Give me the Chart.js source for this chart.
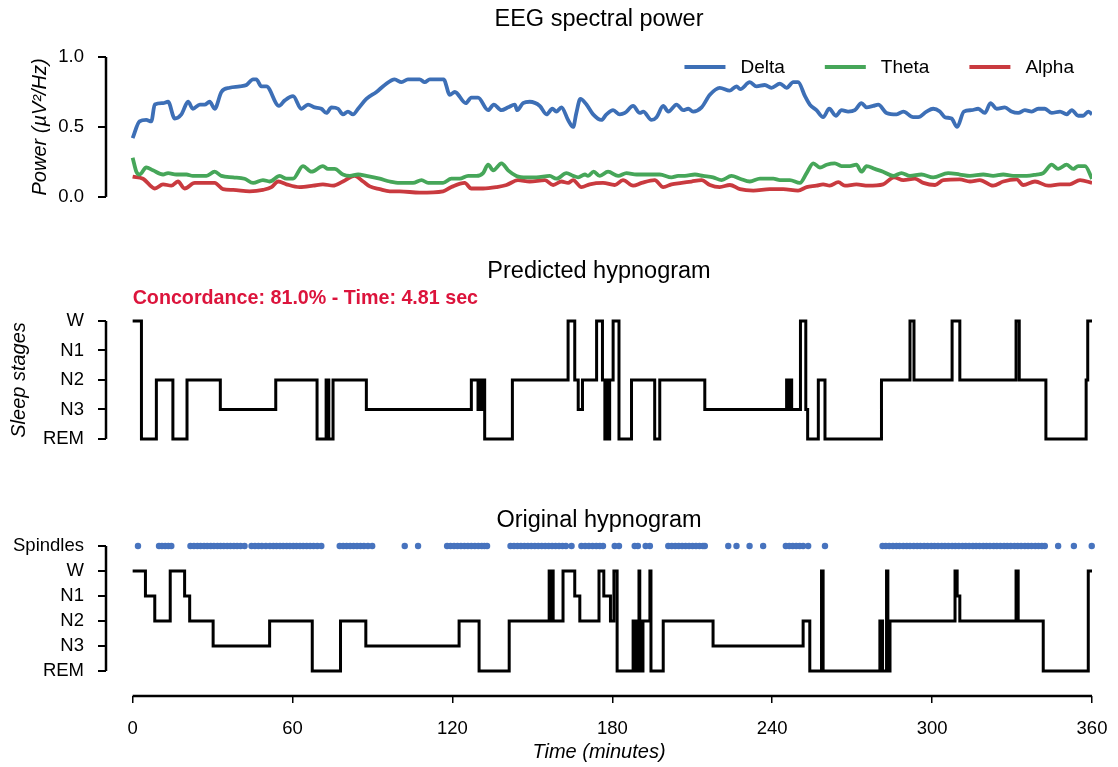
<!DOCTYPE html>
<html>
<head>
<meta charset="utf-8">
<title>EEG spectral power and hypnograms</title>
<script src="https://cdn.jsdelivr.net/npm/chart.js@4.4.1/dist/chart.umd.min.js"></script>
<style>
  body { margin: 0; background: #fff; }
  #wrap { position: relative; width: 1118px; height: 767px; }
  .panel { position: absolute; left: 0; width: 1118px; }
</style>
</head>
<body>
<div id="wrap">
  <div class="panel" style="top:0;height:222px"><canvas id="power"></canvas></div>
  <div class="panel" style="top:240px;height:224px"><canvas id="predicted"></canvas></div>
  <div class="panel" style="top:490px;height:277px"><canvas id="original"></canvas></div>
</div>
<script>
// ---- data (minutes / power / stage index) ----
var deltaTime = [0, 2.6, 5.1, 7.0, 8.3, 11.4, 13.3, 15.8, 18.3, 20.8,
  22.6, 25.2, 27.0, 28.9, 30.8, 33.3, 36.4, 40.2, 42.7, 45.2,
  46.4, 48.3, 50.2, 54.9, 57.1, 60.2, 63.3, 65.8, 68.3, 70.8,
  72.7, 74.6, 77.1, 78.9, 80.8, 82.7, 84.6, 87.7, 91.5, 94.6,
  98.3, 100.9, 103.3, 107.7, 109.6, 111.5, 116.7, 119.0, 120.9, 125.0,
  127.1, 129.6, 133.4, 135.5, 138.4, 140.9, 143.4, 144.3, 146.5, 149.0,
  152.8, 155.3, 157.5, 159.0, 160.9, 163.4, 165.3, 166.5, 168.0, 170.3,
  172.8, 175.9, 177.8, 180.3, 182.8, 184.7, 187.8, 190.3, 191.6, 194.7,
  196.6, 199.1, 201.0, 204.1, 206.6, 208.5, 210.3, 213.5, 216.6, 220.3,
  224.1, 226.6, 228.0, 231.6, 234.1, 237.2, 239.7, 242.9, 245.4, 247.9,
  249.7, 252.3, 254.1, 256.6, 259.1, 261.4, 263.9, 266.0, 268.5, 271.0,
  273.5, 275.4, 277.9, 279.8, 282.9, 286.7, 289.2, 292.9, 294.8, 297.9,
  300.4, 302.9, 304.8, 307.3, 309.4, 311.9, 314.8, 317.3, 319.8, 321.9,
  324.2, 327.3, 329.8, 332.3, 334.8, 337.4, 339.8, 342.3, 344.9, 348.0,
  350.5, 352.4, 354.8, 356.7, 358.6, 360];
var deltaPower = [0.42, 0.54, 0.55, 0.54, 0.66, 0.67, 0.68, 0.56, 0.59, 0.68,
  0.63, 0.66, 0.66, 0.68, 0.63, 0.75, 0.78, 0.79, 0.80, 0.84,
  0.84, 0.79, 0.79, 0.65, 0.69, 0.72, 0.63, 0.66, 0.64, 0.63,
  0.60, 0.64, 0.63, 0.59, 0.61, 0.59, 0.63, 0.70, 0.75, 0.80,
  0.84, 0.82, 0.84, 0.84, 0.82, 0.84, 0.84, 0.73, 0.75, 0.67,
  0.71, 0.71, 0.62, 0.66, 0.62, 0.64, 0.66, 0.62, 0.67, 0.68,
  0.65, 0.59, 0.63, 0.61, 0.64, 0.55, 0.50, 0.60, 0.70, 0.66,
  0.59, 0.55, 0.59, 0.62, 0.59, 0.60, 0.65, 0.60, 0.61, 0.55,
  0.57, 0.65, 0.61, 0.66, 0.62, 0.63, 0.61, 0.64, 0.73, 0.78,
  0.76, 0.79, 0.77, 0.82, 0.79, 0.80, 0.78, 0.81, 0.78, 0.82,
  0.82, 0.72, 0.66, 0.62, 0.57, 0.63, 0.58, 0.62, 0.61, 0.62,
  0.67, 0.64, 0.65, 0.66, 0.60, 0.59, 0.61, 0.57, 0.57, 0.61,
  0.63, 0.61, 0.57, 0.56, 0.50, 0.61, 0.62, 0.63, 0.60, 0.67,
  0.63, 0.64, 0.61, 0.60, 0.62, 0.61, 0.63, 0.63, 0.60, 0.61,
  0.59, 0.62, 0.58, 0.58, 0.61, 0.59];

var thetaTime = [0, 1.4, 2.6, 5.1, 7.6, 11.4, 13.3, 16.4, 20.2, 22.6,
  27.7, 30.8, 33.3, 37.7, 42.0, 45.2, 48.9, 51.4, 55.2, 57.7,
  60.2, 63.9, 67.1, 71.4, 73.3, 75.8, 78.9, 81.5, 84.6, 87.7,
  92.7, 96.5, 100.2, 105.2, 108.4, 110.9, 116.5, 119.6, 122.7, 125.9,
  129.0, 131.5, 133.4, 135.3, 138.4, 140.9, 144.0, 147.8, 151.5, 156.5,
  159.0, 162.8, 165.3, 167.2, 169.7, 170.9, 173.0, 175.3, 178.4, 182.2,
  185.3, 189.1, 192.8, 195.3, 197.8, 202.2, 204.7, 207.2, 211.0, 214.1,
  217.8, 221.0, 224.7, 227.9, 231.6, 235.4, 240.4, 242.9, 246.6, 250.4,
  252.9, 255.4, 257.9, 260.4, 263.5, 266.0, 269.1, 271.6, 273.5, 275.4,
  278.5, 281.6, 285.4, 288.5, 291.7, 296.0, 300.4, 306.0, 310.4, 314.2,
  319.2, 322.9, 326.7, 330.4, 335.5, 339.2, 341.7, 344.9, 347.3, 350.5,
  353.0, 354.8, 357.4, 360];
var thetaPower = [0.28, 0.18, 0.16, 0.21, 0.19, 0.16, 0.17, 0.16, 0.16, 0.15,
  0.15, 0.18, 0.15, 0.14, 0.13, 0.10, 0.12, 0.11, 0.15, 0.13,
  0.13, 0.22, 0.18, 0.22, 0.20, 0.20, 0.16, 0.15, 0.16, 0.15,
  0.13, 0.11, 0.10, 0.10, 0.12, 0.10, 0.10, 0.13, 0.13, 0.15,
  0.15, 0.17, 0.23, 0.19, 0.24, 0.19, 0.15, 0.14, 0.14, 0.15,
  0.13, 0.17, 0.15, 0.14, 0.16, 0.15, 0.18, 0.15, 0.18, 0.15,
  0.17, 0.16, 0.16, 0.16, 0.16, 0.14, 0.15, 0.15, 0.16, 0.15,
  0.14, 0.12, 0.15, 0.13, 0.11, 0.13, 0.13, 0.12, 0.12, 0.10,
  0.17, 0.24, 0.21, 0.23, 0.24, 0.22, 0.22, 0.23, 0.18, 0.22,
  0.20, 0.18, 0.15, 0.17, 0.15, 0.16, 0.14, 0.17, 0.16, 0.15,
  0.16, 0.15, 0.16, 0.15, 0.15, 0.16, 0.17, 0.23, 0.20, 0.23,
  0.20, 0.22, 0.22, 0.13];

var alphaTime = [0, 3.9, 8.3, 11.4, 14.5, 17.0, 19.5, 23.3, 27.7, 30.8,
  33.9, 37.7, 43.9, 48.9, 52.1, 54.6, 57.7, 62.7, 67.7, 71.4,
  75.2, 78.9, 83.3, 86.5, 89.0, 92.7, 96.5, 100.2, 107.7, 116.5,
  119.6, 124.6, 127.1, 131.5, 136.5, 140.3, 144.6, 149.0, 154.7, 157.8,
  160.9, 163.4, 165.3, 168.4, 171.5, 176.5, 180.9, 184.0, 187.8, 191.0,
  195.9, 199.1, 202.2, 206.0, 209.7, 213.5, 216.6, 220.3, 224.1, 227.9,
  232.9, 239.1, 244.1, 249.7, 252.9, 256.6, 259.1, 261.6, 264.8, 267.3,
  271.6, 276.0, 281.6, 285.7, 289.2, 293.5, 296.7, 301.1, 304.2, 310.4,
  314.2, 317.9, 322.9, 326.7, 331.7, 334.2, 338.6, 343.6, 348.0, 351.7,
  355.5, 360];
var alphaPower = [0.145, 0.13, 0.06, 0.09, 0.08, 0.11, 0.06, 0.10, 0.10, 0.10,
  0.055, 0.05, 0.04, 0.05, 0.07, 0.11, 0.09, 0.07, 0.08, 0.09,
  0.08, 0.11, 0.15, 0.11, 0.075, 0.055, 0.04, 0.04, 0.03, 0.04,
  0.07, 0.10, 0.06, 0.06, 0.07, 0.085, 0.12, 0.11, 0.12, 0.085,
  0.11, 0.10, 0.12, 0.07, 0.09, 0.10, 0.085, 0.12, 0.08, 0.10,
  0.12, 0.07, 0.09, 0.10, 0.11, 0.12, 0.085, 0.07, 0.085, 0.055,
  0.045, 0.055, 0.055, 0.045, 0.07, 0.08, 0.09, 0.08, 0.105, 0.08,
  0.09, 0.08, 0.09, 0.14, 0.12, 0.13, 0.10, 0.085, 0.12, 0.125,
  0.11, 0.12, 0.08, 0.11, 0.125, 0.085, 0.11, 0.08, 0.09, 0.09,
  0.12, 0.10];

// stage index: 0 REM, 1 N3, 2 N2, 3 N1, 4 W (5 = spindle row)
var predTime = [0, 3.3, 8.9, 15.1, 20.4, 32.9, 53.7, 69.2, 72.6, 73.6,
  75.2, 87.7, 127.1, 129.6, 130.2, 130.8, 131.4, 132.1, 142.5, 163.4,
  165.9, 167.2, 168.8, 174.1, 176.3, 177.2, 177.9, 178.3, 179.0, 180.3,
  182.5, 187.2, 195.9, 197.8, 214.7, 245.4, 246.0, 246.6, 247.3, 250.6,
  252.6, 253.3, 257.3, 259.8, 281.0, 291.7, 293.2, 307.5, 310.4, 331.5,
  332.7, 342.7, 357.8, 358.4, 360];
var predStage = [4, 0, 2, 0, 2, 1, 2, 0, 2, 0,
  2, 1, 2, 1, 2, 1, 2, 0, 2, 4,
  2, 1, 2, 4, 2, 0, 2, 0, 2, 4,
  0, 2, 0, 2, 1, 2, 1, 2, 1, 4,
  1, 0, 2, 0, 2, 4, 2, 4, 2, 4,
  2, 0, 2, 4, 4];

var origTime = [0, 4.8, 8.3, 14.1, 19.5, 21.4, 30.2, 51.4, 67.4, 78.0,
  87.5, 122.5, 130.0, 141.3, 156.3, 156.9, 157.3, 157.8, 161.5, 165.9,
  167.8, 175.0, 176.8, 179.3, 180.6, 181.8, 187.8, 188.4, 188.9, 189.4,
  190.0, 190.3, 190.6, 191.0, 191.5, 194.1, 194.5, 199.1, 217.8, 251.6,
  254.1, 258.5, 259.1, 280.4, 281.4, 282.9, 283.4, 284.2, 308.6, 309.4,
  310.4, 331.5, 332.3, 341.7, 358.6, 360];
var origStage = [4, 3, 2, 4, 3, 2, 1, 2, 0, 2,
  1, 2, 0, 2, 4, 2, 4, 2, 4, 3,
  2, 4, 3, 2, 4, 0, 2, 0, 2, 0,
  4, 0, 2, 0, 2, 4, 0, 2, 1, 2,
  0, 4, 0, 2, 0, 4, 0, 2, 4, 3,
  2, 4, 2, 0, 4, 4];

var spindleTimes = [2.0, 9.9, 11.0, 12.2, 13.4, 14.5,
  21.7, 23.0, 24.3, 25.5, 26.8, 28.0, 29.3, 30.5, 31.8, 33.0, 34.2, 35.5, 36.7, 38.0, 39.2, 40.5, 42.0,
  44.6, 45.9, 47.2, 48.5, 50.0, 51.5, 52.8, 54.0, 55.3, 56.5, 57.8, 59.0, 60.3, 61.5, 62.8, 64.0, 65.3, 66.6, 67.9, 69.3, 70.8,
  77.7, 79.0, 80.3, 81.6, 82.9, 84.2, 85.5, 86.8, 88.3, 89.9,
  102.1, 107.1,
  118.0, 119.3, 120.6, 121.9, 123.2, 124.5, 125.8, 127.1, 128.4, 129.7, 131.0, 132.0, 133.0,
  141.8, 143.1, 144.4, 145.7, 147.0, 148.3, 149.6, 150.9, 152.2, 153.5, 154.8, 156.1, 157.4, 158.7, 160.0, 161.3, 162.6, 164.7,
  168.4, 169.8, 171.2, 172.6, 174.0, 175.3, 176.5,
  180.9, 182.5,
  188.4, 189.6, 192.5, 194.1,
  201.0, 202.3, 203.6, 204.9, 206.2, 207.5, 208.8, 210.1, 211.4, 212.7, 214.0, 214.7,
  223.5, 226.6, 231.5, 236.6,
  245.1, 246.4, 247.7, 249.0, 250.3, 251.6, 253.5,
  259.8,
  281.4, 282.6, 283.9, 285.3, 286.6, 287.8, 289.2, 290.5, 291.7, 293.1, 294.4, 295.6, 297.0, 298.3, 299.7, 300.9,
  302.2, 303.6, 304.8, 306.1, 307.5, 308.7, 310.0, 311.4, 312.6, 313.9, 315.3, 316.5, 317.8, 319.2, 320.4, 321.7,
  323.1, 324.3, 325.6, 327.0, 328.2, 329.5, 330.9, 332.1, 333.4, 334.8, 336.0, 337.3, 338.7, 339.9, 341.2, 342.3,
  347.3, 353.2, 359.9];
var spindleRow = 5;

var timeTicks = [0, 60, 120, 180, 240, 300, 360];
var powerTicks = [0, 0.5, 1];
var predictedLabels = ['REM', 'N3', 'N2', 'N1', 'W'];
var originalLabels = ['REM', 'N3', 'N2', 'N1', 'W', 'Spindles'];
var concordanceText = 'Concordance: 81.0% - Time: 4.81 sec';

// ---- styling ----
var BLUE = '#3d6fb6';
var GREEN = '#46a659';
var RED = '#c93a3f';
var DOTS = '#4773be';
var FONT = '"Liberation Sans", Arial, Helvetica, sans-serif';
var X_MIN = -10;   // gap between the y spine and time 0
var AXIS_W = 106;  // fixed y-axis box width so the three panels line up

Chart.defaults.font.family = FONT;
Chart.defaults.color = '#000';
Chart.defaults.animation = false;

function pts(xs, ys) {
  return xs.map(function (x, i) { return { x: x, y: ys[i] }; });
}

// matplotlib-like trimmed spines, ends taken from the scales
var spines = {
  id: 'spines',
  afterDraw: function (chart, args, opts) {
    var ctx = chart.ctx, area = chart.chartArea;
    ctx.save();
    ctx.strokeStyle = '#000';
    ctx.lineCap = 'butt';
    if (opts.y) {
      var ys = chart.scales.y;
      ctx.lineWidth = 2.5;
      ctx.beginPath();
      ctx.moveTo(area.left, ys.getPixelForValue(opts.y[0]));
      ctx.lineTo(area.left, ys.getPixelForValue(opts.y[1]));
      ctx.stroke();
    }
    if (opts.x) {
      var xs = chart.scales.x;
      ctx.lineWidth = 2.5;
      ctx.beginPath();
      ctx.moveTo(xs.getPixelForValue(opts.x[0]), area.bottom);
      ctx.lineTo(xs.getPixelForValue(opts.x[1]), area.bottom);
      ctx.stroke();
    }
    ctx.restore();
  }
};

var powerLegend = {
  id: 'powerLegend',
  afterDraw: function (chart) {
    var ctx = chart.ctx, area = chart.chartArea;
    var lineLen = 41, gap = 15, spacing = 40;
    var sets = chart.data.datasets;
    ctx.save();
    ctx.font = '19px ' + FONT;
    ctx.textBaseline = 'middle';
    var widths = sets.map(function (d) { return lineLen + gap + ctx.measureText(d.label).width; });
    var total = widths.reduce(function (a, b) { return a + b; }, 0) + spacing * (sets.length - 1);
    var x = area.right - 18 - total;
    var y = area.top + 10;
    sets.forEach(function (d, i) {
      ctx.strokeStyle = d.borderColor;
      ctx.lineWidth = 3.8;
      ctx.beginPath();
      ctx.moveTo(x, y);
      ctx.lineTo(x + lineLen, y);
      ctx.stroke();
      ctx.fillStyle = '#000';
      ctx.fillText(d.label, x + lineLen + gap, y + 1);
      x += widths[i] + spacing;
    });
    ctx.restore();
  }
};

var concordanceNote = {
  id: 'concordanceNote',
  afterDraw: function (chart) {
    var ctx = chart.ctx;
    ctx.save();
    ctx.font = 'bold 19.7px ' + FONT;
    ctx.fillStyle = '#dc143c';
    ctx.textBaseline = 'middle';
    ctx.fillText(concordanceText, chart.scales.x.getPixelForValue(0), chart.chartArea.top - 22);
    ctx.restore();
  }
};

function yAxis(min, max, tickValues, label, titleGap, fmt) {
  return {
    type: 'linear',
    min: min,
    max: max,
    afterBuildTicks: function (s) { s.ticks = tickValues.map(function (v) { return { value: v }; }); },
    afterFit: function (s) { s.width = AXIS_W; },
    border: { display: false },
    grid: { drawOnChartArea: false, color: '#000', lineWidth: 2, tickLength: 8 },
    ticks: { autoSkip: false, padding: 14, font: { size: 18.5 }, callback: fmt },
    title: {
      display: !!label,
      text: label || '',
      font: { size: 20, style: 'italic' },
      padding: { top: titleGap, bottom: 0 }
    }
  };
}

var hiddenX = { type: 'linear', min: X_MIN, max: 360, display: false };

var timeX = {
  type: 'linear',
  min: X_MIN,
  max: 360,
  afterBuildTicks: function (s) { s.ticks = timeTicks.map(function (v) { return { value: v }; }); },
  afterFit: function (s) { s.height = 71; },
  border: { display: false },
  grid: { drawOnChartArea: false, color: '#000', lineWidth: 1.5, tickLength: 7 },
  // small padding keeps "360" from squeezing the plot; the tall line box moves labels down
  ticks: { autoSkip: false, maxRotation: 0, padding: 9, font: { size: 18.5, lineHeight: 1.84 } },
  title: {
    display: true,
    text: 'Time (minutes)',
    font: { size: 20, style: 'italic' },
    padding: { top: 0, bottom: 3 }
  }
};

function panelOptions(title, titleTop, titleBottom, padBottom, x, y, spineOpts) {
  return {
    responsive: true,
    maintainAspectRatio: false,
    layout: { padding: { left: 0, right: 26, top: 0, bottom: padBottom } },
    plugins: {
      legend: { display: false },
      tooltip: { enabled: false },
      title: {
        display: true,
        text: title,
        fullSize: false,
        font: { size: 23.5, weight: 'normal' },
        padding: { top: titleTop, bottom: titleBottom }
      },
      spines: spineOpts
    },
    scales: { x: x, y: y }
  };
}

function powerLine(label, xs, ys, color) {
  return {
    label: label,
    data: pts(xs, ys),
    borderColor: color,
    borderWidth: 3.8,
    pointRadius: 0,
    cubicInterpolationMode: 'monotone',
    fill: false
  };
}

function stageLine(xs, ys) {
  return {
    label: 'stage',
    data: pts(xs, ys),
    stepped: true,
    borderColor: '#000',
    borderWidth: 3,
    borderJoinStyle: 'miter',
    pointRadius: 0,
    fill: false,
    clip: false
  };
}

new Chart(document.getElementById('power'), {
  type: 'line',
  data: {
    datasets: [
      powerLine('Delta', deltaTime, deltaPower, BLUE),
      powerLine('Theta', thetaTime, thetaPower, GREEN),
      powerLine('Alpha', alphaTime, alphaPower, RED)
    ]
  },
  options: panelOptions('EEG spectral power', 5.9, 22.9, 0, hiddenX,
    yAxis(0, 1, powerTicks, 'Power (\u00b5V\u00b2/Hz)', 28, function (v) { return v.toFixed(1); }),
    { y: [0, 1] }),
  plugins: [spines, powerLegend]
});

new Chart(document.getElementById('predicted'), {
  type: 'line',
  data: { datasets: [stageLine(predTime, predStage)] },
  options: panelOptions('Predicted hypnogram', 17.9, 34.9, 0, hiddenX,
    yAxis(0, 4, [0, 1, 2, 3, 4], 'Sleep stages', 7, function (v) { return predictedLabels[v]; }),
    { y: [0, 4] }),
  plugins: [spines, concordanceNote]
});

new Chart(document.getElementById('original'), {
  type: 'line',
  data: {
    datasets: [
      {
        label: 'Spindles',
        data: pts(spindleTimes, spindleTimes.map(function () { return spindleRow; })),
        showLine: false,
        pointRadius: 3.2,
        pointBackgroundColor: DOTS,
        pointBorderWidth: 0,
        clip: false
      },
      stageLine(origTime, origStage)
    ]
  },
  options: panelOptions('Original hypnogram', 16.9, 10.9, 0, timeX,
    yAxis(-1, 5, [0, 1, 2, 3, 4, 5], '', 0, function (v) { return originalLabels[v]; }),
    { x: [0, 360], y: [0, 5] }),
  plugins: [spines]
});
</script>
</body>
</html>
